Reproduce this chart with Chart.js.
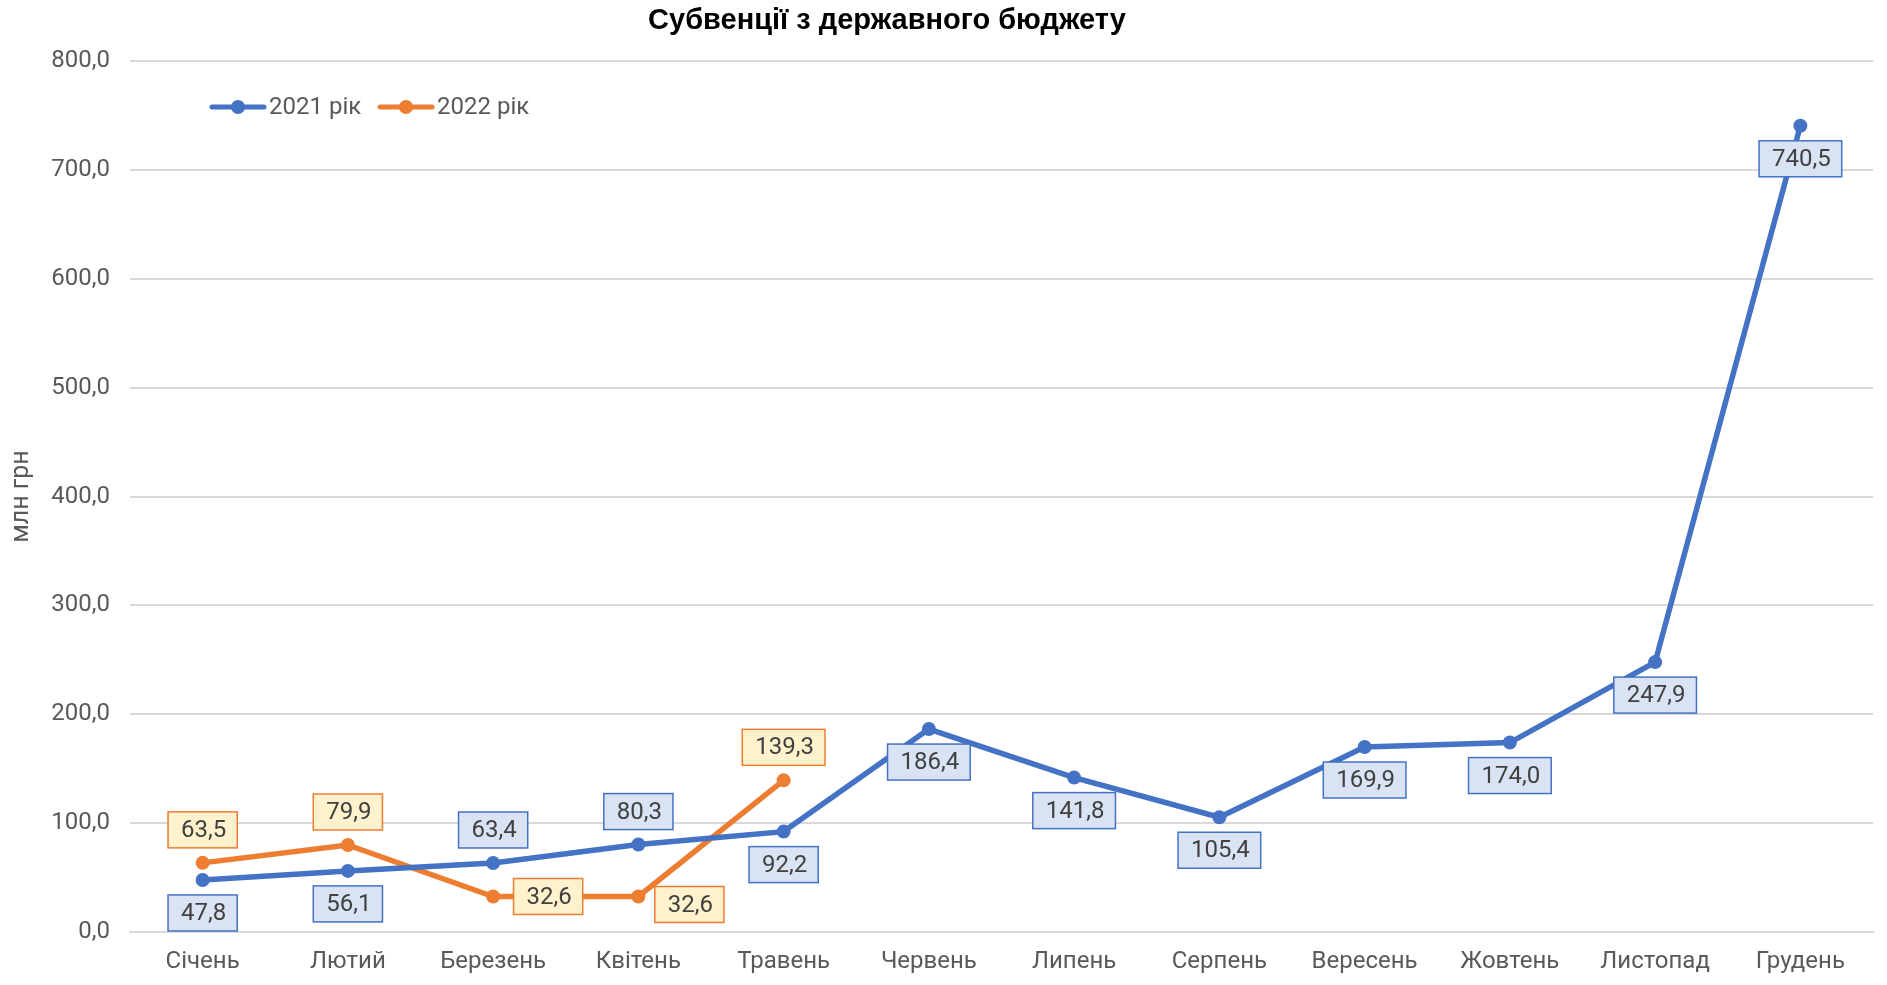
<!DOCTYPE html>
<html>
<head>
<meta charset="utf-8">
<script src="https://cdn.jsdelivr.net/npm/chart.js@4/dist/chart.umd.min.js"></script>
<style>
  body { margin: 0; background: #fff; }
</style>
</head>
<body>
<canvas id="canvas" width="1887" height="985"></canvas>
<script>
let months = ['Січень', 'Лютий', 'Березень', 'Квітень', 'Травень', 'Червень', 'Липень', 'Серпень', 'Вересень', 'Жовтень', 'Листопад', 'Грудень'];
let values2021 = [47.8, 56.1, 63.4, 80.3, 92.2, 186.4, 141.8, 105.4, 169.9, 174.0, 247.9, 740.5];
let values2022 = [63.5, 79.9, 32.6, 32.6, 139.3, null, null, null, null, null, null, null];
let seriesNames = ['2021 рік', '2022 рік'];
let chartTitle = 'Субвенції з державного бюджету';
let axisTitle = 'млн грн';

// where each value label sits relative to its point
let place2021 = ['below', 'below', 'above', 'above', 'below', 'below', 'below', 'below', 'below', 'below', 'below', 'below'];
let place2022 = ['above', 'above', 'right', 'rightlow', 'above'];

let blue = '#4472C4';
let orange = '#ED7D31';
let textFont = 'Roboto, "Liberation Sans", Arial, sans-serif';
let fmt = function (v) { return v.toFixed(1).replace('.', ','); };

let labelBoxes = {
  id: 'labelBoxes',
  afterDatasetsDraw(chart) {
    let ctx = chart.ctx;
    let styles = [
      { fill: '#DAE3F3', stroke: blue, place: place2021 },
      { fill: '#FFF2CC', stroke: orange, place: place2022 }
    ];
    ctx.save();
    ctx.font = '24px ' + textFont;
    ctx.textAlign = 'center';
    ctx.textBaseline = 'middle';
    chart.data.datasets.forEach(function (ds, i) {
      let meta = chart.getDatasetMeta(i);
      ds.data.forEach(function (v, j) {
        if (v === null) return;
        let pt = meta.data[j];
        let txt = fmt(v);
        let w = ctx.measureText(txt).width + 24;
        let h = 36;
        let cx = pt.x, cy = pt.y;
        let p = styles[i].place[j];
        if (p === 'below') cy += 33;
        if (p === 'above') cy -= 33;
        if (p === 'right') cx += 55;
        if (p === 'rightlow') { cx += 51; cy += 8; }
        ctx.fillStyle = styles[i].fill;
        ctx.fillRect(cx - w / 2, cy - h / 2, w, h);
        ctx.lineWidth = 1.5;
        ctx.strokeStyle = styles[i].stroke;
        ctx.strokeRect(cx - w / 2, cy - h / 2, w, h);
        ctx.fillStyle = '#404040';
        ctx.fillText(txt, cx + 1, cy + 1);
      });
    });
    ctx.restore();
  }
};

let headerAndLegend = {
  id: 'headerAndLegend',
  afterDraw(chart) {
    let ctx = chart.ctx;
    ctx.save();
    ctx.font = 'bold 29px "Liberation Sans", Arial, sans-serif';
    ctx.fillStyle = '#000';
    ctx.textAlign = 'center';
    ctx.textBaseline = 'middle';
    ctx.fillText(chartTitle, 887, 21);

    let xs = [212, 380];
    ctx.font = '24px ' + textFont;
    ctx.textAlign = 'left';
    chart.data.datasets.forEach(function (ds, i) {
      let x = xs[i], y = 107;
      ctx.strokeStyle = ds.borderColor;
      ctx.lineWidth = 5;
      ctx.lineCap = 'round';
      ctx.beginPath();
      ctx.moveTo(x, y);
      ctx.lineTo(x + 52, y);
      ctx.stroke();
      ctx.fillStyle = ds.borderColor;
      ctx.beginPath();
      ctx.arc(x + 26, y, 7, 0, Math.PI * 2);
      ctx.fill();
      ctx.fillStyle = '#595959';
      ctx.fillText(ds.label, x + 57, y + 1);
    });
    ctx.restore();
  }
};

let ctx = document.getElementById('canvas').getContext('2d');
let chart = new Chart(ctx, {
  type: 'line',
  data: {
    labels: months,
    datasets: [{
      label: seriesNames[0],
      data: values2021,
      borderColor: blue,
      backgroundColor: blue,
      borderWidth: 5.5,
      pointRadius: 7,
      pointBackgroundColor: blue,
      pointBorderWidth: 0,
      tension: 0
    }, {
      label: seriesNames[1],
      data: values2022,
      borderColor: orange,
      backgroundColor: orange,
      borderWidth: 5.5,
      pointRadius: 7,
      pointBackgroundColor: orange,
      pointBorderWidth: 0,
      tension: 0
    }]
  },
  options: {
    responsive: false,
    animation: false,
    layout: { padding: { top: 61, right: 14, bottom: 0, left: 0 } },
    plugins: {
      legend: { display: false },
      title: { display: false },
      tooltip: { enabled: false }
    },
    scales: {
      x: {
        offset: true,
        grid: { display: false, drawTicks: false },
        border: { display: true, color: '#D9D9D9', width: 2 },
        ticks: {
          color: '#595959',
          font: { size: 24, family: textFont },
          padding: 16,
          maxRotation: 0
        },
        afterFit(scale) { scale.height = 53; }
      },
      y: {
        min: 0,
        max: 800,
        grid: { color: '#D9D9D9', lineWidth: 2, drawTicks: false },
        border: { display: false },
        ticks: {
          stepSize: 100,
          color: '#595959',
          padding: 20,
          font: { size: 24, family: textFont },
          callback: function (v) { return fmt(v); }
        },
        title: {
          display: true,
          text: axisTitle,
          color: '#595959',
          font: { size: 25, family: textFont },
          padding: { top: 7, bottom: 0 }
        },
        afterFit(scale) { scale.width = 130; }
      }
    }
  },
  plugins: [labelBoxes, headerAndLegend]
});
</script>
</body>
</html>
